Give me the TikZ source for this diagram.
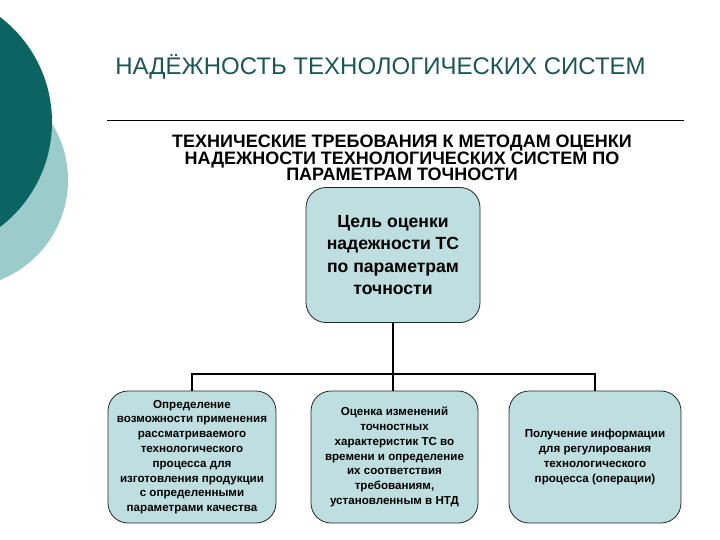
\documentclass[tikz,border=0pt]{standalone}
\usepackage{fontspec}
\setmainfont{Liberation Sans}
\definecolor{darkteal}{HTML}{0B6462}
\definecolor{lightteal}{HTML}{9CCBCB}
\definecolor{boxfill}{HTML}{BEDEE0}
\definecolor{titlecol}{HTML}{1E5656}
\tikzset{
  card/.style={draw=black!85, line width=0.8pt, fill=boxfill, rounded corners=20pt, align=center, font=\bfseries},
  wire/.style={line width=2.4pt, black},
  small/.style={font=\fontsize{11.6}{14.8}\selectfont\bfseries, inner sep=1pt},
}
\begin{document}
\begin{tikzpicture}[x=1pt,y=-1pt]
\useasboundingbox (0,0) rectangle (720,540);
% decorative circles
\fill[lightteal] (-39.5,180) circle (107.5);
\fill[darkteal] (-80,122) circle (132);
% title
\node[text=titlecol, font=\fontsize{24}{28}\selectfont] (title) at (380.5,67) {НАДЁЖНОСТЬ ТЕХНОЛОГИЧЕСКИХ СИСТЕМ};
\draw[line width=0.8pt] (107,120) -- (684,120);
\node[align=center, font=\fontsize{18}{16.5}\selectfont\bfseries, inner sep=0pt] (sub) at (402,158)
  {ТЕХНИЧЕСКИЕ ТРЕБОВАНИЯ К МЕТОДАМ ОЦЕНКИ\\
   НАДЕЖНОСТИ ТЕХНОЛОГИЧЕСКИХ СИСТЕМ ПО\\
   ПАРАМЕТРАМ ТОЧНОСТИ};
% top box
\node[card, minimum width=174pt, minimum height=135pt, font=\fontsize{17.6}{22.5}\selectfont\bfseries] (goal) at (393,255)
  {Цель оценки\\надежности ТС\\по параметрам\\точности};
% bottom boxes
\node[card, small, minimum width=168pt, minimum height=132pt] (b1) at (192,457)
  {Определение\\возможности применения\\рассматриваемого\\технологического\\процесса для\\изготовления продукции\\с определенными\\параметрами качества};
\node[card, small, minimum width=167pt, minimum height=132pt] (b2) at (394.5,457)
  {Оценка изменений\\точностных\\характеристик ТС во\\времени и определение\\их соответствия\\требованиям,\\установленным в НТД};
\node[card, small, minimum width=172pt, minimum height=132pt] (b3) at (595,457)
  {Получение информации\\для регулирования\\технологического\\процесса (операции)};
% connectors
\coordinate (j) at (393,374);
\draw[wire] (goal.south) -- (j);
\draw[wire] (b1.north) |- (j) -| (b3.north);
\draw[wire] (j) -- (b2.north -| j);
\end{tikzpicture}
\end{document}
